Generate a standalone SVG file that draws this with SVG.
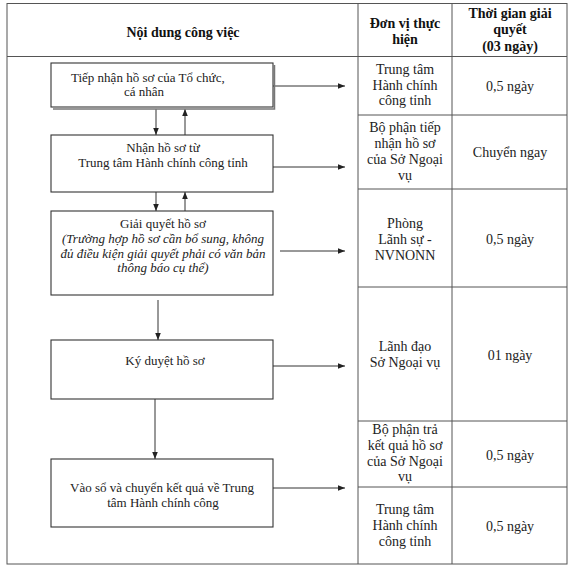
<svg xmlns="http://www.w3.org/2000/svg" width="575" height="573" viewBox="0 0 575 573">
<style>
.tbl{fill:none;stroke:#555;stroke-width:1}
.box{fill:#fff;stroke:#333;stroke-width:1.1}
.t{font-family:"Liberation Serif","Times New Roman",serif;font-size:13px;fill:#222;text-anchor:middle}
.r{font-family:"Liberation Serif","Times New Roman",serif;font-size:14px;fill:#222;text-anchor:middle}
.h{font-family:"Liberation Serif","Times New Roman",serif;font-size:14px;font-weight:bold;fill:#111;text-anchor:middle}
.i{font-style:italic}
.s{text-anchor:start}
.c{fill:none;stroke:#333;stroke-width:1}
</style>
<defs>
<marker id="ah" viewBox="0 0 10 10" refX="10" refY="5" markerWidth="7" markerHeight="7" markerUnits="userSpaceOnUse" orient="auto">
<path d="M0,1 L10,5 L0,9 Z" fill="#222"/>
</marker>
</defs>
<rect width="575" height="573" fill="#fff"/>
<g id="table">
<rect class="tbl" x="7" y="3.5" width="560" height="560.5"/>
<line class="tbl" x1="7" y1="56.5" x2="567" y2="56.5"/>
<line class="tbl" x1="358" y1="3.5" x2="358" y2="564"/>
<line class="tbl" x1="452" y1="3.5" x2="452" y2="564"/>
<line class="tbl" x1="358" y1="115" x2="567" y2="115"/>
<line class="tbl" x1="358" y1="189" x2="567" y2="189"/>
<line class="tbl" x1="358" y1="287" x2="567" y2="287"/>
<line class="tbl" x1="358" y1="421" x2="567" y2="421"/>
<line class="tbl" x1="358" y1="487" x2="567" y2="487"/>
<text class="h" x="183" y="37">Nội dung công việc</text>
<text class="h" x="405" y="28">Đơn vị thực</text>
<text class="h" x="405" y="44">hiện</text>
<text class="h" x="510" y="18">Thời gian giải</text>
<text class="h" x="510" y="34">quyết</text>
<text class="h" x="510" y="51">(03 ngày)</text>
<text class="r" x="405" y="74">Trung tâm</text>
<text class="r" x="405" y="90">Hành chính</text>
<text class="r" x="405" y="105">công tỉnh</text>
<text class="r" x="510" y="91">0,5 ngày</text>
<text class="r" x="405" y="132">Bộ phận tiếp</text>
<text class="r" x="405" y="148">nhận hồ sơ</text>
<text class="r" x="405" y="164">của Sở Ngoại</text>
<text class="r" x="405" y="180">vụ</text>
<text class="r" x="510" y="157">Chuyển ngay</text>
<text class="r" x="405" y="228">Phòng</text>
<text class="r" x="405" y="244">Lãnh sự -</text>
<text class="r" x="405" y="260">NVNONN</text>
<text class="r" x="510" y="244">0,5 ngày</text>
<text class="r" x="405" y="351">Lãnh đạo</text>
<text class="r" x="405" y="367">Sở Ngoại vụ</text>
<text class="r" x="510" y="360">01 ngày</text>
<text class="r" x="405" y="434">Bộ phận trả</text>
<text class="r" x="405" y="450">kết quả hồ sơ</text>
<text class="r" x="405" y="466">của Sở Ngoại</text>
<text class="r" x="405" y="481">vụ</text>
<text class="r" x="510" y="460">0,5 ngày</text>
<text class="r" x="405" y="514">Trung tâm</text>
<text class="r" x="405" y="530">Hành chính</text>
<text class="r" x="405" y="546">công tỉnh</text>
<text class="r" x="510" y="531">0,5 ngày</text>
</g>
<g id="connectors">
<line class="c" x1="273" y1="86" x2="345" y2="86" marker-end="url(#ah)"/>
<line class="c" x1="273" y1="167" x2="345" y2="167" marker-end="url(#ah)"/>
<line class="c" x1="280" y1="251" x2="345" y2="251" marker-end="url(#ah)"/>
<line class="c" x1="273" y1="366" x2="345" y2="366" marker-end="url(#ah)"/>
<line class="c" x1="273" y1="488" x2="345" y2="488" marker-end="url(#ah)"/>
<line class="c" x1="156" y1="109" x2="156" y2="135" marker-end="url(#ah)"/>
<line class="c" x1="185" y1="135" x2="185" y2="109" marker-end="url(#ah)"/>
<line class="c" x1="156" y1="192" x2="156" y2="211" marker-end="url(#ah)"/>
<line class="c" x1="185" y1="211" x2="185" y2="192" marker-end="url(#ah)"/>
<line class="c" x1="158" y1="300" x2="158" y2="340" marker-end="url(#ah)"/>
<line class="c" x1="155" y1="399" x2="155" y2="459" marker-end="url(#ah)"/>
</g>
<g id="n1">
<path d="M53,109 H274.5 V65" fill="none" stroke="#777" stroke-width="1.5"/>
<rect class="box" x="51" y="63" width="222" height="44"/>
<text class="t s" x="71" y="82">Tiếp nhận hồ sơ của Tổ chức,</text>
<text class="t s" x="124" y="96">cá nhân</text>
</g>
<g id="n2">
<rect class="box" x="51" y="135" width="222" height="57"/>
<text class="t" x="163" y="152">Nhận hồ sơ từ</text>
<text class="t" x="163" y="167">Trung tâm Hành chính công tỉnh</text>
</g>
<g id="n3">
<rect class="box" x="51" y="211" width="222" height="84"/>
<text class="t" x="163" y="228">Giải quyết hồ sơ</text>
<text class="t i" x="163" y="243">(Trường hợp hồ sơ cần bổ sung, không</text>
<text class="t i" x="163" y="257.5">đủ điều kiện giải quyết phải có văn bản</text>
<text class="t i" x="163" y="272">thông báo cụ thể)</text>
</g>
<g id="n4">
<rect class="box" x="51" y="340" width="222" height="59"/>
<text class="t" x="165" y="365">Ký duyệt hồ sơ</text>
</g>
<g id="n5">
<rect class="box" x="51" y="459" width="222" height="68"/>
<text class="t" x="162" y="492">Vào sổ và chuyển kết quả về Trung</text>
<text class="t" x="163" y="507">tâm Hành chính công</text>
</g>
</svg>
